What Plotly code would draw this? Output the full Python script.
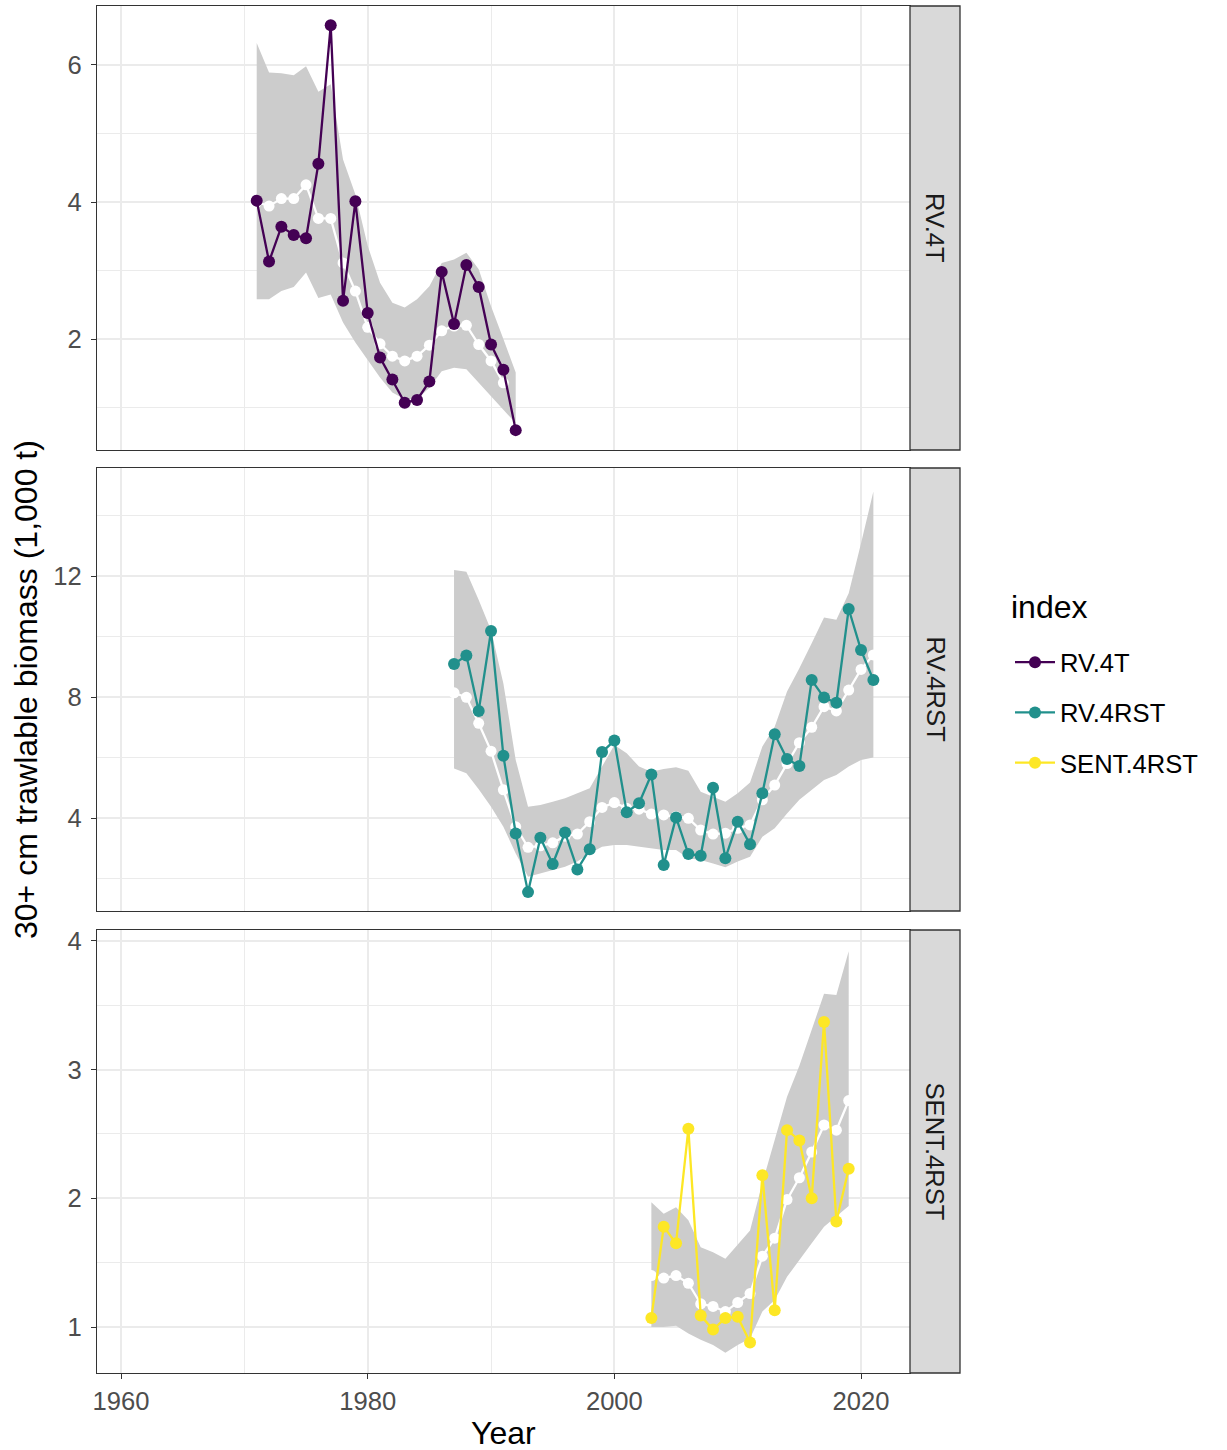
import plotly.graph_objects as go

# ---------------- data ----------------
years_rv4t = list(range(1971, 1993))
obs_rv4t = [4.02, 3.13, 3.64, 3.52, 3.47, 4.56, 6.58, 2.56, 4.01, 2.38, 1.73,
            1.41, 1.07, 1.11, 1.38, 2.98, 2.22, 3.08, 2.76, 1.92, 1.55, 0.67]
fit_rv4t = [4.00, 3.94, 4.05, 4.05, 4.25, 3.76, 3.76, 3.11, 2.70, 2.17, 1.93,
            1.75, 1.68, 1.75, 1.91, 2.12, 2.19, 2.20, 1.92, 1.68, 1.36, None]
lo_rv4t = [2.58, 2.58, 2.70, 2.76, 2.97, 2.60, 2.65, 2.24, 1.95, 1.70, 1.44,
           1.22, 1.12, 1.12, 1.29, 1.53, 1.58, 1.56, 1.36, 1.17, 0.97, 0.77]
hi_rv4t = [6.32, 5.89, 5.88, 5.85, 5.98, 5.61, 5.72, 4.62, 4.11, 3.36, 2.82,
           2.53, 2.46, 2.58, 2.77, 3.11, 3.16, 3.26, 3.02, 2.48, 2.00, 1.51]

years_rv4rst = list(range(1987, 2022))
obs_rv4rst = [9.09, 9.37, 7.54, 10.18, 6.06, 3.49, 1.55, 3.35, 2.48, 3.52,
              2.30, 2.97, 6.18, 6.56, 4.19, 4.49, 5.44, 2.45, 4.02, 2.81,
              2.75, 5.00, 2.67, 3.88, 3.13, 4.82, 6.77, 5.95, 5.72, 8.56,
              7.98, 7.81, 10.91, 9.55, 8.56]
fit_rv4rst = [8.14, 7.99, 7.13, 6.21, 4.93, 3.71, 3.03, 3.08, 3.18, 3.40,
              3.47, 3.88, 4.35, 4.51, 4.32, 4.29, 4.13, 4.10, 4.05, 3.99,
              3.60, 3.47, 3.50, 3.66, 3.77, 4.60, 5.09, 5.80, 6.49, 7.00,
              7.68, 7.54, 8.23, 8.91, 9.39]
lo_rv4rst = [5.64, 5.48, 4.95, 4.37, 3.71, 2.83, 2.06, 2.17, 2.28, 2.39,
             2.56, 2.83, 3.05, 3.11, 3.11, 3.05, 3.00, 2.94, 2.94, 2.67,
             2.61, 2.50, 2.37, 2.56, 2.72, 3.38, 3.66, 4.15, 4.60, 4.93,
             5.26, 5.42, 5.70, 5.92, 6.00]
hi_rv4rst = [12.20, 12.14, 11.21, 10.21, 8.45, 5.92, 4.37, 4.43, 4.54, 4.65,
             4.82, 4.98, 5.70, 6.41, 6.14, 5.70, 5.53, 5.62, 5.68, 5.56,
             4.87, 4.70, 4.54, 4.82, 5.17, 6.36, 7.02, 8.18, 8.95, 9.78,
             10.63, 10.55, 11.43, 13.08, 14.79]

years_sent = list(range(2003, 2020))
obs_sent = [1.07, 1.78, 1.65, 2.54, 1.09, 0.98, 1.07, 1.08, 0.88, 2.18,
            1.13, 2.53, 2.45, 2.00, 3.37, 1.82, 2.23]
fit_sent = [1.40, 1.38, 1.40, 1.34, 1.18, 1.16, 1.12, 1.19, 1.26, 1.55,
            1.69, 1.99, 2.16, 2.36, 2.57, 2.53, 2.76]
lo_sent = [1.00, 1.00, 1.01, 0.95, 0.90, 0.86, 0.80, 0.86, 0.91, 1.12,
           1.21, 1.39, 1.52, 1.65, 1.78, 1.86, 1.94]
hi_sent = [1.97, 1.88, 1.93, 1.83, 1.62, 1.58, 1.53, 1.64, 1.75, 2.12,
           2.45, 2.79, 3.03, 3.31, 3.59, 3.58, 3.92]

index_names = ["RV.4T", "RV.4RST", "SENT.4RST"]
index_colors = ["#440154", "#21908C", "#FDE725"]

x_ticks = [1960, 1980, 2000, 2020]
x_minor = [1970, 1990, 2010]
y_ticks = [[2, 4, 6], [4, 8, 12], [1, 2, 3, 4]]
y_minor = [[1, 3, 5], [2, 6, 10, 14], [1.5, 2.5, 3.5]]

# ---------------- layout geometry ----------------
W, H = 1227, 1450
px_x = lambda v: v / W
px_y = lambda v: 1 - v / H
xdom = [px_x(97), px_x(910)]
panel_px = [(6, 450), (468, 911), (930, 1373)]
y_ranges = [[0.380, 6.861], [0.926, 15.570], [0.6425, 4.0854]]
x_range = [1958.05, 2023.97]

series = [
    (years_rv4t, obs_rv4t, fit_rv4t, lo_rv4t, hi_rv4t),
    (years_rv4rst, obs_rv4rst, fit_rv4rst, lo_rv4rst, hi_rv4rst),
    (years_sent, obs_sent, fit_sent, lo_sent, hi_sent),
]

FONT = "Liberation Sans, Arial, sans-serif"
GRID = "#EBEBEB"
BORDER = "#333333"

fig = go.Figure()
for i, (yrs, obs, fit, lo, hi) in enumerate(series):
    xa = "x" if i == 0 else f"x{i+1}"
    ya = "y" if i == 0 else f"y{i+1}"
    fig.add_trace(go.Scatter(
        x=yrs + yrs[::-1], y=hi + lo[::-1], fill="toself",
        fillcolor="#CCCCCC", line=dict(width=0), mode="lines",
        hoverinfo="skip", showlegend=False, xaxis=xa, yaxis=ya))
    fig.add_trace(go.Scatter(
        x=yrs, y=fit, mode="lines+markers",
        line=dict(color="white", width=2.3),
        marker=dict(color="white", size=11),
        showlegend=False, xaxis=xa, yaxis=ya))
    fig.add_trace(go.Scatter(
        x=yrs, y=obs, mode="lines+markers", name=index_names[i],
        legendgroup=index_names[i],
        line=dict(color=index_colors[i], width=2.3),
        marker=dict(color=index_colors[i], size=12),
        xaxis=xa, yaxis=ya))

shapes = []
annotations = []
for i, (top, bot) in enumerate(panel_px):
    sfx = "" if i == 0 else str(i + 1)
    ydom = [px_y(bot), px_y(top)]
    bottom = (i == 2)
    fig.layout["xaxis" + sfx] = dict(
        domain=xdom, range=x_range, anchor="y" + sfx,
        tickmode="array", tickvals=x_ticks,
        showticklabels=bottom, ticks="outside" if bottom else "",
        ticklen=5, tickwidth=1.3, tickcolor=BORDER,
        tickfont=dict(size=25.6, color="#4D4D4D", family=FONT),
        showgrid=True, gridcolor=GRID, gridwidth=1.6,
        minor=dict(tickmode="array", tickvals=x_minor, showgrid=True,
                   gridcolor=GRID, gridwidth=0.8, ticks=""),
        showline=True, linecolor=BORDER, linewidth=1.3, mirror=True,
        zeroline=False, automargin=False, fixedrange=True)
    fig.layout["yaxis" + sfx] = dict(
        domain=ydom, range=y_ranges[i], anchor="x" + sfx,
        tickmode="array", tickvals=y_ticks[i],
        ticks="outside", ticklen=5, tickwidth=1.3, tickcolor=BORDER,
        ticklabelstandoff=4,
        tickfont=dict(size=25.6, color="#4D4D4D", family=FONT),
        showgrid=True, gridcolor=GRID, gridwidth=1.6,
        minor=dict(tickmode="array", tickvals=y_minor[i], showgrid=True,
                   gridcolor=GRID, gridwidth=0.8, ticks=""),
        showline=True, linecolor=BORDER, linewidth=1.3, mirror=True,
        zeroline=False, automargin=False, fixedrange=True)
    shapes.append(dict(type="rect", xref="paper", yref="paper",
                       x0=px_x(910), x1=px_x(960), y0=ydom[0], y1=ydom[1],
                       fillcolor="#D9D9D9", line=dict(color=BORDER, width=1.3)))
    annotations.append(dict(text=index_names[i], xref="paper", yref="paper",
                            x=px_x(935), y=(ydom[0] + ydom[1]) / 2,
                            showarrow=False, textangle=90,
                            font=dict(size=25.6, color="#1A1A1A", family=FONT),
                            xanchor="center", yanchor="middle"))

annotations.append(dict(text="30+ cm trawlable biomass (1,000 t)", xref="paper",
                        yref="paper", x=px_x(26), y=px_y(690), showarrow=False,
                        textangle=-90, xanchor="center", yanchor="middle",
                        font=dict(size=32, color="black", family=FONT)))
annotations.append(dict(text="Year", xref="paper", yref="paper",
                        x=px_x(503.5), y=px_y(1433), showarrow=False,
                        xanchor="center", yanchor="middle",
                        font=dict(size=32, color="black", family=FONT)))
annotations.append(dict(text="index", xref="paper", yref="paper",
                        x=px_x(1009), y=px_y(607), showarrow=False,
                        xanchor="left", yanchor="middle",
                        font=dict(size=32, color="black", family=FONT)))

fig.update_layout(
    width=W, height=H, margin=dict(l=0, r=0, t=0, b=0),
    plot_bgcolor="white", paper_bgcolor="white",
    font=dict(family=FONT),
    shapes=shapes, annotations=annotations,
    legend=dict(x=px_x(1010), y=px_y(639), xanchor="left", yanchor="top",
                font=dict(size=25.6, color="black", family=FONT),
                tracegroupgap=14, itemwidth=40, bgcolor="rgba(0,0,0,0)"),
    showlegend=True,
)

fig.write_html("out.html", config={"displayModeBar": False},
               post_script="document.body.style.margin='0px';document.body.style.padding='0px';")
